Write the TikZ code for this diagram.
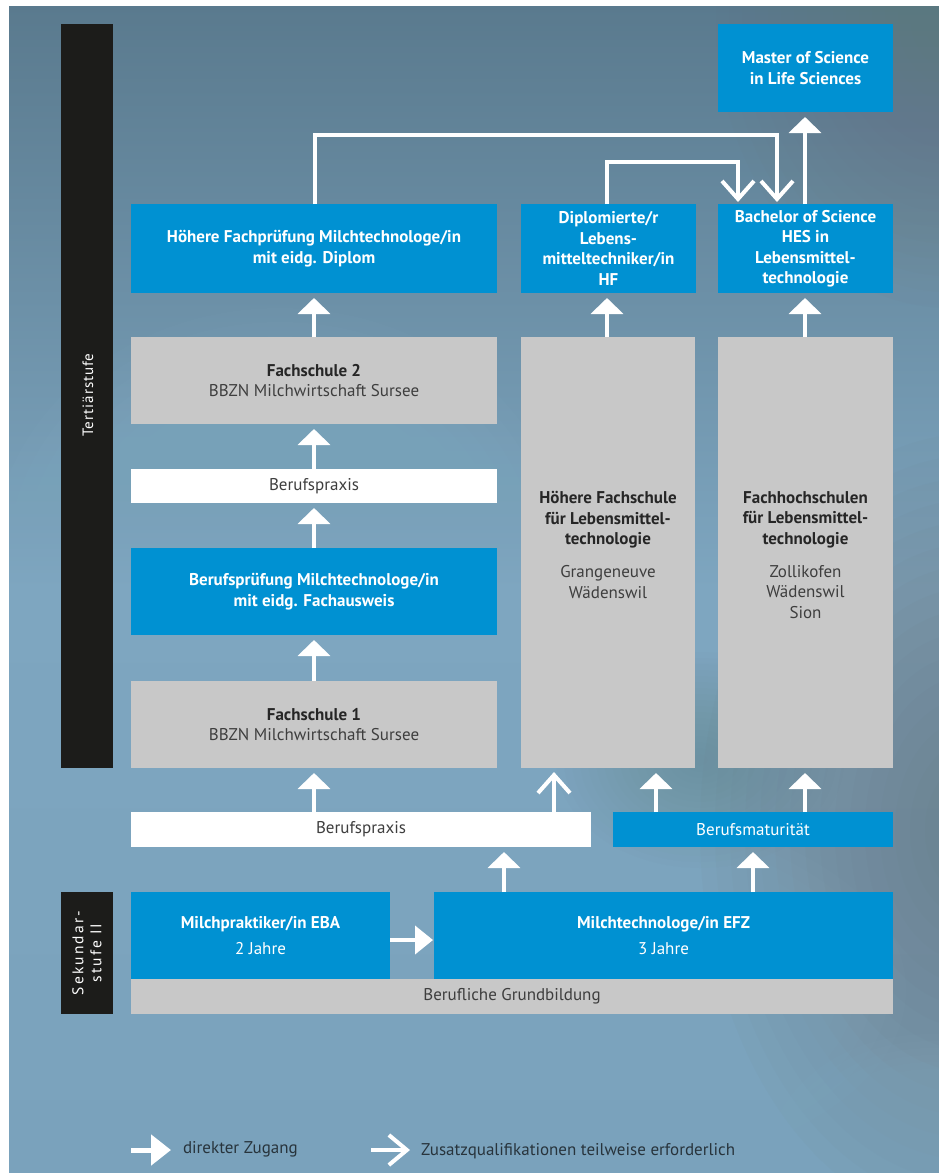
\documentclass[tikz,border=0pt]{standalone}
\usepackage{fontspec}
\setmainfont{PT Sans}
\usetikzlibrary{arrows.meta}
\definecolor{boxblue}{RGB}{0,145,210}
\definecolor{boxgray}{RGB}{200,200,200}
\definecolor{barblack}{RGB}{28,28,26}
\definecolor{txtdark}{RGB}{38,38,38}
\definecolor{txtgray}{RGB}{62,62,62}
\definecolor{legtxt}{RGB}{40,52,60}
\definecolor{bgtop}{RGB}{90,122,142}
\definecolor{bgmid}{RGB}{126,166,192}
\definecolor{bgbot}{RGB}{122,162,188}
\definecolor{bggray}{RGB}{108,120,128}
\definecolor{bglight}{RGB}{150,192,215}
\begin{document}
\begin{tikzpicture}[x=1pt,y=-1pt,
  every node/.style={inner sep=0pt, outer sep=0pt},
  basefont/.style={font=\fontsize{17}{20.5}\selectfont},
  bluebox/.style={basefont, fill=boxblue, text=white, align=center},
  graybox/.style={basefont, fill=boxgray, text=txtgray, align=center},
  whitebox/.style={basefont, fill=white, text=txtgray, align=center},
  blackbar/.style={fill=barblack},
  bartext/.style={text=white, rotate=90, align=center},
  legend/.style={basefont, text=legtxt, anchor=west},
  direct/.style={draw=white, line width=4pt, -{Triangle[width=32pt,length=16pt]}, shorten >=5pt},
  partial/.style={draw=white, line width=4pt, -{Straight Barb[width=32pt,length=18pt]}, shorten >=2pt},
]
\useasboundingbox (0,0) rectangle (939,1173);
% background
\fill[white] (0,0) rectangle (939,1173);
\begin{scope}
\clip (9,6) rectangle (939,1173);
\shade[top color=bgtop, bottom color=bgbot, middle color=bgmid] (9,6) rectangle (939,1173);
\foreach \i in {1,...,18} {
  \fill[bggray, opacity=0.045] (950,20) ellipse ({\i*13} and {\i*16});
  \fill[bggray, opacity=0.055] (970,830) ellipse ({\i*15} and {\i*22});
  \fill[bggray, opacity=0.025] (700,760) ellipse ({\i*8} and {\i*6});
  \fill[bglight, opacity=0.03] (280,560) ellipse ({\i*16} and {\i*14});
  \fill[bglight, opacity=0.03] (600,990) ellipse ({\i*17} and {\i*10});
  \fill[bglight, opacity=0.03] (930,1160) ellipse ({\i*9} and {\i*7});
}
\end{scope}

% level bars
\node[blackbar, minimum width=52pt, minimum height=744pt] (tert) at (87,396) {};
\node[bartext, font=\fontsize{15}{17}\selectfont\addfontfeature{LetterSpace=6}] (tertlbl) at (88,395) {Tertiärstufe};
\node[blackbar, minimum width=52pt, minimum height=122pt] (sek) at (87,953) {};
\node[bartext, font=\fontsize{15.5}{18}\selectfont\addfontfeature{LetterSpace=14}] (seklbl) at (87,953) {Sekundar-\\stufe II};

% boxes
\node[bluebox, minimum width=175pt, minimum height=88pt] (master) at (805.5,68) {\bfseries Master of Science\\\bfseries in Life Sciences};
\node[bluebox, minimum width=366pt, minimum height=89pt] (hfp) at (314,248.5) {\bfseries Höhere Fachprüfung Milchtechnologe/in\\\bfseries mit eidg. Diplom};
\node[bluebox, minimum width=175pt, minimum height=89pt] (dipl) at (608.5,248.5) {\bfseries Diplomierte/r\\\bfseries Lebens-\\\bfseries mitteltechniker/in\\\bfseries HF};
\node[bluebox, minimum width=175pt, minimum height=89pt] (bach) at (805.5,248.5) {\bfseries Bachelor of Science\\\bfseries HES in\\\bfseries Lebensmittel-\\\bfseries technologie};
\node[graybox, minimum width=366pt, minimum height=87pt] (fs2) at (314,380.5) {\textcolor{txtdark}{\bfseries Fachschule 2}\\BBZN Milchwirtschaft Sursee};
\node[whitebox, minimum width=366pt, minimum height=34pt] (bp1) at (314,486) {Berufspraxis};
\node[bluebox, minimum width=366pt, minimum height=87pt] (bpr) at (314,591.5) {\bfseries Berufsprüfung Milchtechnologe/in\\\bfseries mit eidg. Fachausweis};
\node[graybox, minimum width=366pt, minimum height=87pt] (fs1) at (314,724.5) {\textcolor{txtdark}{\bfseries Fachschule 1}\\BBZN Milchwirtschaft Sursee};
\node[graybox, minimum width=174pt, minimum height=431pt] (hfs) at (608,552.5) {};
\node[graybox] (hfslbl) at (608,545) {\textcolor{txtdark}{\bfseries Höhere Fachschule}\\\textcolor{txtdark}{\bfseries für Lebensmittel-}\\\textcolor{txtdark}{\bfseries technologie}\\[12.5pt]Grangeneuve\\Wädenswil};
\node[graybox, minimum width=175pt, minimum height=431pt] (fhs) at (805.5,552.5) {};
\node[graybox] (fhslbl) at (805.5,555) {\textcolor{txtdark}{\bfseries Fachhochschulen}\\\textcolor{txtdark}{\bfseries für Lebensmittel-}\\\textcolor{txtdark}{\bfseries technologie}\\[12.5pt]Zollikofen\\Wädenswil\\Sion};
\node[whitebox, minimum width=460pt, minimum height=35pt] (bp2) at (361,829.5) {Berufspraxis};
\node[bluebox, minimum width=280pt, minimum height=35pt] (bm) at (753,829.5) {Berufsmaturität};
\node[bluebox, minimum width=259pt, minimum height=87pt] (mp) at (260.5,935.5) {\bfseries Milchpraktiker/in EBA\\[6pt]2 Jahre};
\node[bluebox, minimum width=459pt, minimum height=87pt] (mt) at (663.5,935.5) {\bfseries Milchtechnologe/in EFZ\\[6pt]3 Jahre};
\node[graybox, minimum width=762pt, minimum height=35pt] (gb) at (512,996.5) {Berufliche Grundbildung};

% helper coordinates
\coordinate (x554) at (554,0);
\coordinate (x656) at (656,0);
\coordinate (x805) at (805,0);
\coordinate (x504) at (504,0);
\coordinate (x753) at (753,0);
\coordinate (x607) at (607,0);
\coordinate (x314) at (314,0);
\coordinate (y940) at (0,940);
\coordinate (turnA) at (315,135);
\coordinate (xA) at (777,0);
\coordinate (turnB) at (607,162);
\coordinate (xB) at (738,0);

% connectors
\draw[direct] (fs2.north) -- (hfp.south);
\draw[direct] (bp1.north) -- (fs2.south);
\draw[direct] (bpr.north) -- (bp1.south);
\draw[direct] (fs1.north) -- (bpr.south);
\draw[direct] (bp2.north -| x314) -- (fs1.south);
\draw[partial, shorten >=4pt] (bp2.north -| x554) -- (hfs.south -| x554);
\draw[direct] (bm.north -| x656) -- (hfs.south -| x656);
\draw[direct] (bm.north -| x805) -- (fhs.south -| x805);
\draw[direct] (mt.north -| x504) -- (bp2.south -| x504);
\draw[direct] (mt.north -| x753) -- (bm.south -| x753);
\draw[direct, -{Triangle[width=28pt,length=18pt]}, shorten >=1pt] (mp.east |- y940) -- (mt.west |- y940);
\draw[direct] (hfs.north -| x607) -- (dipl.south -| x607);
\draw[direct] (fhs.north -| x805) -- (bach.south -| x805);
\draw[direct] (bach.north -| x805) -- (master.south -| x805);
\draw[partial] (hfp.north -| turnA) -- (turnA) -| (bach.north -| xA);
\draw[partial] (dipl.north -| turnB) -- (turnB) -| (bach.north -| xB);

% legend
\coordinate (lgA1) at (131,1150);
\coordinate (lgA2) at (171,1150);
\coordinate (lgB1) at (371,1150);
\coordinate (lgB2) at (410,1150);
\draw[draw=white, line width=5pt, -{Triangle[width=30pt,length=20pt]}] (lgA1) -- (lgA2);
\node[legend] (lgAt) at (183,1149) {direkter Zugang};
\draw[draw=white, line width=4pt, -{Straight Barb[width=30pt,length=18pt]}] (lgB1) -- (lgB2);
\node[legend] (lgBt) at (421,1151) {Zusatzqualifikationen teilweise erforderlich};
\end{tikzpicture}
\end{document}
